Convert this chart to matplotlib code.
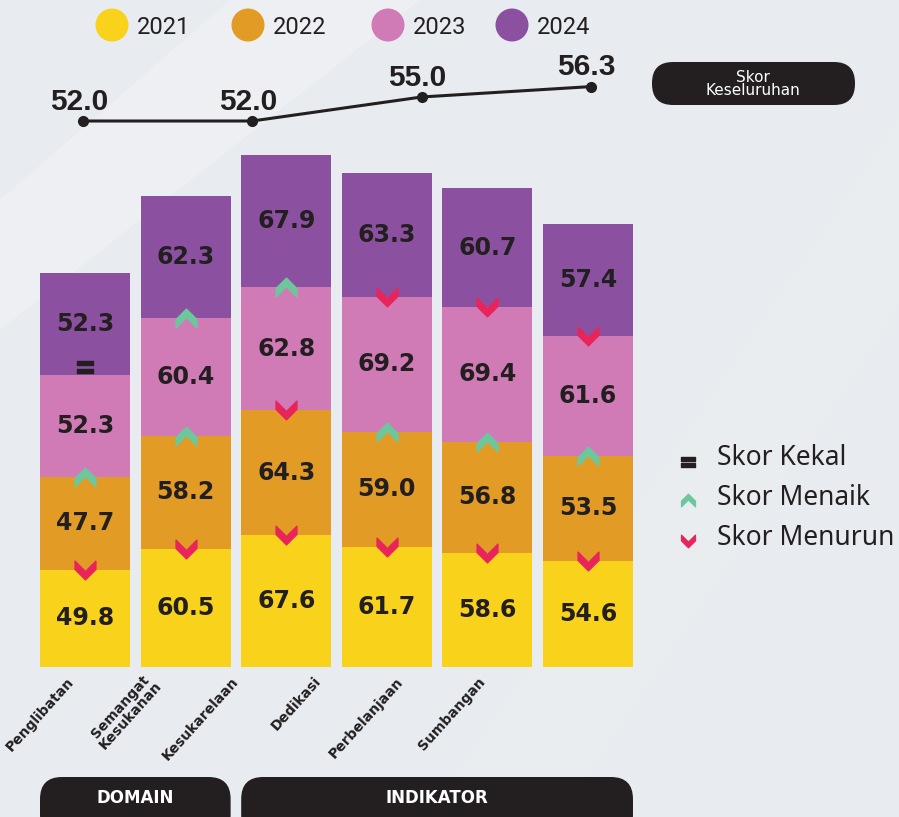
import matplotlib
matplotlib.use("Agg")
import matplotlib.pyplot as plt
import numpy as np
from matplotlib.path import Path
from matplotlib.patches import FancyBboxPatch, Polygon, Circle
import matplotlib.transforms as mtransforms

# data
years = ['2021', '2022', '2023', '2024']
categories = ['Penglibatan', 'Semangat\nKesukanan', 'Kesukarelaan',
              'Dedikasi', 'Perbelanjaan', 'Sumbangan']
s2021 = [49.8, 60.5, 67.6, 61.7, 58.6, 54.6]
s2022 = [47.7, 58.2, 64.3, 59.0, 56.8, 53.5]
s2023 = [52.3, 60.4, 62.8, 69.2, 69.4, 61.6]
s2024 = [52.3, 62.3, 67.9, 63.3, 60.7, 57.4]
overall = [52.0, 52.0, 55.0, 56.3]
groups = ['DOMAIN', 'INDIKATOR']
group_span = [(0, 1), (2, 5)]
marker_labels = ['Skor Kekal', 'Skor Menaik', 'Skor Menurun']

colors = ['#f9d21b', '#e29c25', '#d07bb5', '#8b51a0']
DARK = '#231f20'
GREEN = '#6dc79d'
RED = '#e8245a'
BG = '#e8ebef'
W, H = 899, 817

up = Path([(-1, -0.1), (0, 0.9), (1, -0.1), (1, -0.9), (0, 0.1), (-1, -0.9), (-1, -0.1)],
          [Path.MOVETO] + [Path.LINETO] * 5 + [Path.CLOSEPOLY])
down = Path([(x, -y) for x, y in up.vertices], up.codes)
eq = Path([(-1, 0.2), (1, 0.2), (1, 0.75), (-1, 0.75), (-1, 0.2),
           (-1, -0.75), (1, -0.75), (1, -0.2), (-1, -0.2), (-1, -0.75)],
          [Path.MOVETO, Path.LINETO, Path.LINETO, Path.LINETO, Path.CLOSEPOLY] * 2)

fig = plt.figure(figsize=(W / 100, H / 100), dpi=100, facecolor=BG)

# background / decoration layer in pixel coords
bg = fig.add_axes([0, 0, 1, 1], zorder=0)
bg.set_xlim(0, W)
bg.set_ylim(H, 0)
bg.axis('off')
bg.add_patch(Polygon([(230, 0), (420, 0), (0, 330), (0, 200)], closed=True,
                     facecolor='white', alpha=0.22, lw=0))
bg.add_patch(Polygon([(980, 0), (1100, 0), (560, 817), (430, 817)], closed=True,
                     facecolor='white', alpha=0.12, lw=0))

# main bars
ax = fig.add_axes([30 / W, (H - 667) / H, 615 / W, 527 / H], zorder=2)
ax.patch.set_alpha(0)
ax.set_xlim(-0.547, 5.567)
ax.set_ylim(0, 270.3)
ax.axis('off')

series = [s2021, s2022, s2023, s2024]
x = np.arange(len(categories))
bottom = np.zeros(len(categories))
for k, vals in enumerate(series):
    vals = np.array(vals)
    ax.bar(x, vals, width=0.895, bottom=bottom, color=colors[k], lw=0, zorder=2)
    for i, v in enumerate(vals):
        ax.text(x[i], bottom[i] + v / 2, f'{v:.1f}', ha='center', va='center',
                fontsize=17, fontweight='bold', color=DARK, zorder=4)
    if k > 0:
        prev = np.array(series[k - 1])
        for i in range(len(categories)):
            if vals[i] > prev[i]:
                ax.plot(x[i], bottom[i], marker=up, ms=15, color=GREEN, zorder=5)
            elif vals[i] < prev[i]:
                ax.plot(x[i], bottom[i], marker=down, ms=15, color=RED, zorder=5)
            else:
                ax.plot(x[i], bottom[i] + vals[i] / 2 - 22, marker=eq, ms=11,
                        color=DARK, zorder=5)
    bottom = bottom + vals

# category labels, rotated
for i, name in enumerate(categories):
    off = mtransforms.ScaledTranslation((-13 - 18.5 * i) / 100, -12 / 100,
                                        fig.dpi_scale_trans)
    ax.text(x[i], 0, name, rotation=48, rotation_mode='anchor', ha='right',
            va='center', ma='center', fontsize=10, fontweight='bold', color=DARK,
            transform=ax.transData + off, linespacing=0.95)

# group pills
for name, (a, b) in zip(groups, group_span):
    x0 = ax.transData.transform((a - 0.4475, 0))[0]
    x1 = ax.transData.transform((b + 0.4475, 0))[0]
    bg.add_patch(FancyBboxPatch((x0, 777), x1 - x0, 60,
                                boxstyle='round,pad=0,rounding_size=22',
                                facecolor=DARK, lw=0, zorder=3))
    bg.text((x0 + x1) / 2, 798, name, ha='center', va='center', color='white',
            fontsize=12, fontweight='bold', zorder=4)

# overall score line
ax2 = fig.add_axes([30 / W, (H - 140) / H, 615 / W, 90 / H], zorder=3)
ax2.patch.set_alpha(0)
ax2.set_xlim(-0.313, 3.32)
ax2.set_ylim(49.625, 60.875)
ax2.axis('off')
xo = np.arange(len(overall))
ax2.plot(xo, overall, color=DARK, lw=2.2, marker='o', ms=7, clip_on=False)
for xi, v in zip(xo, overall):
    ax2.annotate(f'{v:.1f}', (xi, v), xytext=(-3, 8), textcoords='offset points',
                 ha='center', va='baseline', fontsize=21.5, fontweight='bold',
                 family='Liberation Sans', color=DARK, annotation_clip=False)

bg.add_patch(FancyBboxPatch((652, 62), 203, 43,
                            boxstyle='round,pad=0,rounding_size=21',
                            facecolor=DARK, lw=0, zorder=3))
bg.text(753, 84, 'Skor\nKeseluruhan', ha='center', va='center', color='white',
        fontsize=11, linespacing=0.9, zorder=4)

# year legend
leg_x = [112, 248, 388, 512]
for k, yr in enumerate(years):
    bg.add_patch(Circle((leg_x[k], 25), 16.5, facecolor=colors[k], lw=0, zorder=3))
    bg.text(leg_x[k] + 25, 27, yr, ha='left', va='center', fontsize=17,
            family='Roboto', color=DARK, zorder=4)

# marker legend
bg.plot(688, 462, marker=eq, ms=10, color=DARK, zorder=4)
bg.plot(688, 500, marker=up, ms=10, color=GREEN, zorder=4)
bg.plot(688, 541, marker=down, ms=10, color=RED, zorder=4)
for j, lab in enumerate(marker_labels):
    bg.text(717, 458 + 40 * j, lab, ha='left', va='center', fontsize=19,
            family='Noto Sans', color=DARK, zorder=4)

fig.savefig('out.png', dpi=100, facecolor=BG)
